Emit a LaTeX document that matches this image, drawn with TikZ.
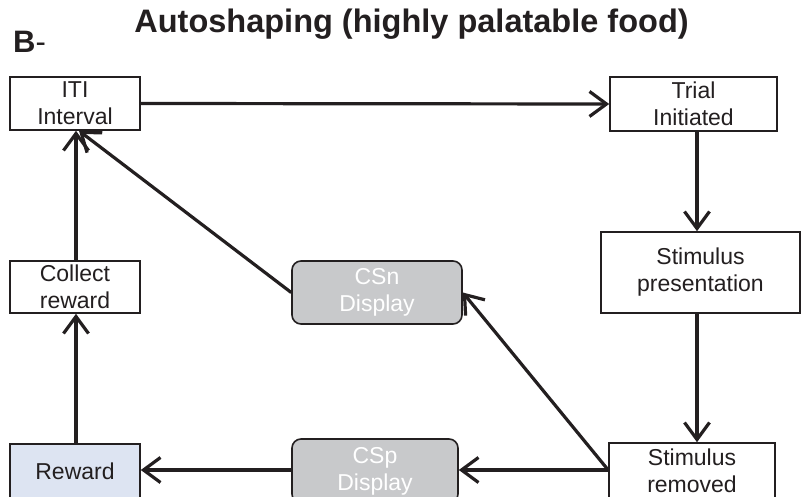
\documentclass[tikz,border=0pt]{standalone}
\usepackage{fontspec}
\setmainfont{Liberation Sans}
\usetikzlibrary{arrows.meta,calc}
\definecolor{ink}{HTML}{231F20}
\definecolor{grayfill}{HTML}{C8C9CB}
\definecolor{bluefill}{HTML}{DDE4F2}
\tikzset{
  box/.style={draw=ink, line width=1.6pt, fill=white, inner sep=0pt, align=center,
    font=\fontsize{23}{27}\selectfont, text=ink},
  csbox/.style={box, fill=grayfill, rounded corners=9pt, text=white},
  conn/.style={draw=ink, line width=3.2pt, -{Straight Barb[length=17pt,width=25pt,line width=3.2pt]}},
}
\begin{document}
\begin{tikzpicture}[x=1pt,y=-1pt]
\useasboundingbox (0,0) rectangle (809,497);
\node[anchor=base, font=\fontsize{32.5}{36}\selectfont\bfseries, text=ink] (title) at (411.5,33) {Autoshaping (highly palatable food)};
\node[anchor=base west, inner sep=0pt, font=\fontsize{31}{36}\selectfont, text=ink] (lbl) at (13,53) {\textbf{B}-};

\node[box, minimum width=130pt, minimum height=53pt] (iti) at (75,103.5) {ITI\\Interval};
\node[box, minimum width=167pt, minimum height=54pt] (trial) at (693.5,104) {Trial\\Initiated};
\node[box, minimum width=199pt, minimum height=81pt] (stimp) at (700.5,272.5) {Stimulus\\presentation};
\node[box, minimum width=166pt, minimum height=56pt] (stimr) at (692,471) {Stimulus\\removed};
\node[box, minimum width=130pt, minimum height=52pt] (collect) at (75,287) {Collect\\reward};
\node[box, fill=bluefill, minimum width=130pt, minimum height=54pt] (reward) at (75,471) {Reward};
\node[csbox, minimum width=170pt, minimum height=63pt] (csn) at (377,292.5) {CSn\\Display};
\node[csbox, minimum width=166pt, minimum height=64pt] (csp) at (375,471) {CSp\\Display};

\coordinate (colr) at (697,0);
\coordinate (coll) at (76,0);
\coordinate (rowb) at (0,470);

\draw[conn] (iti.east) -- (trial.west);
\draw[conn] (trial.south -| colr) -- (stimp.north -| colr);
\draw[conn] (stimp.south -| colr) -- (stimr.north -| colr);
\draw[conn] (stimr.west |- rowb) -- (csp.east |- rowb);
\draw[conn] (stimr.west |- rowb) -- (csn.east);
\draw[conn] (csp.west |- rowb) -- (reward.east |- rowb);
\draw[conn] (reward.north -| coll) -- (collect.south -| coll);
\draw[conn] (collect.north -| coll) -- (iti.south -| coll);
\draw[conn] (csn.west) -- ($(iti.south)+(4,0)$);
\end{tikzpicture}
\end{document}
